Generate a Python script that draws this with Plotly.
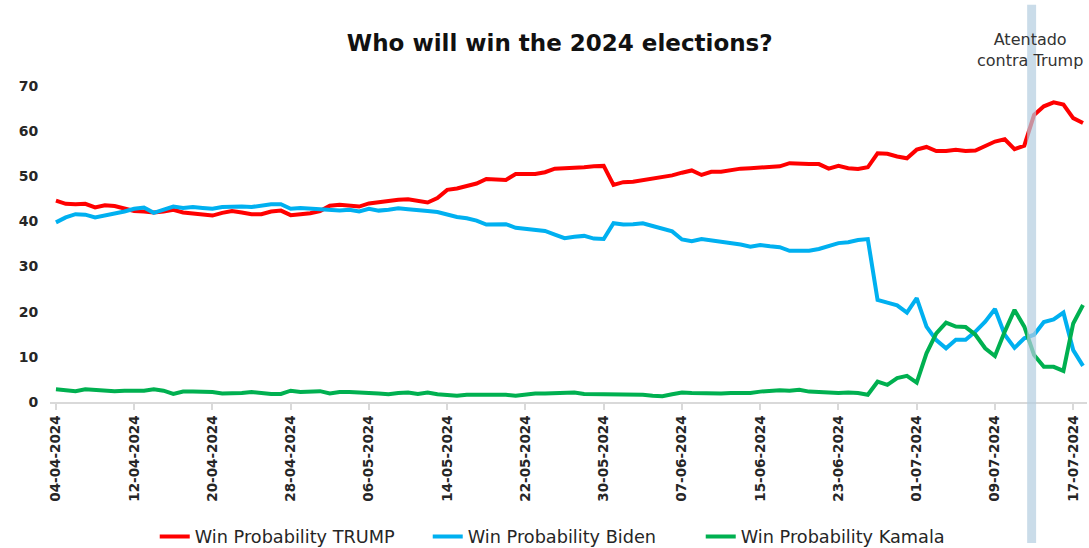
import pandas as pd
import plotly.graph_objects as go

start_date = "2024-04-04"
n_days = 106
dates = pd.date_range(start_date, periods=n_days, freq="D")

trump = [44.6, 43.9, 43.8, 43.9, 43.1, 43.6, 43.4, 42.8, 42.3, 42.2,
         42.0, 42.2, 42.6, 42.0, 41.7, 41.5, 41.3, 41.9, 42.3, 42.0,
         41.6, 41.6, 42.2, 42.4, 41.4, 41.6, 41.8, 42.3, 43.5, 43.7,
         43.6, 43.3, 44.0, 44.3, 44.6, 44.8, 44.9, 44.6, 44.2, 45.2,
         47.0, 47.3, 47.8, 48.4, 49.4, 49.3, 49.2, 50.5, 50.4, 50.5,
         50.9, 51.7, 51.8, 51.8, 52.0, 52.2, 52.3, 48.1, 48.7, 48.8,
         49.1, 49.5, 49.8, 50.2, 50.8, 51.3, 50.3, 51.0, 51.0, 51.4,
         51.7, 51.8, 52.0, 52.1, 52.2, 52.9, 52.7, 52.7, 52.7, 51.7,
         52.3, 51.8, 51.6, 52.0, 55.1, 55.0, 54.4, 54.0, 55.9, 56.5,
         55.6, 55.6, 55.9, 55.6, 55.7, 56.8, 57.7, 58.2, 56.0, 56.8,
         63.6, 65.5, 66.4, 65.9, 62.9, 61.8]

biden = [39.8, 40.9, 41.6, 41.5, 40.9, 41.3, 41.8, 42.2, 42.8, 43.1,
         41.9, 42.7, 43.3, 43.0, 43.2, 43.0, 42.8, 43.2, 43.3, 43.3,
         43.2, 43.6, 43.8, 43.8, 42.8, 43.0, 42.9, 42.7, 42.5, 42.4,
         42.6, 42.2, 42.8, 42.4, 42.6, 42.9, 42.7, 42.4, 42.3, 42.1,
         41.5, 41.0, 40.7, 40.2, 39.3, 39.3, 39.4, 38.6, 38.4, 38.2,
         37.9, 37.1, 36.3, 36.6, 36.8, 36.2, 36.1, 39.6, 39.3, 39.4,
         39.6, 39.0, 38.3, 37.8, 36.0, 35.6, 36.1, 35.8, 35.5, 35.4,
         34.9, 34.4, 34.8, 34.5, 34.3, 33.5, 33.5, 33.5, 33.9, 34.6,
         35.2, 35.4, 35.9, 36.1, 22.6, 22.0, 21.4, 19.8, 23.0, 16.7,
         13.7, 11.9, 13.8, 13.8, 15.6, 17.8, 20.6, 14.9, 12.0, 14.1,
         14.9, 17.7, 18.3, 19.8, 11.5, 8.0]

kamala = [2.8, 2.6, 2.4, 2.8, 2.6, 2.5, 2.4, 2.5, 2.5, 2.5,
          2.8, 2.5, 1.8, 2.3, 2.3, 2.3, 2.2, 1.9, 1.9, 2.0,
          2.2, 1.9, 1.8, 1.8, 2.5, 2.2, 2.3, 2.4, 1.9, 2.2,
          2.2, 2.2, 2.0, 1.9, 1.7, 2.0, 2.1, 1.8, 2.1, 1.7,
          1.6, 1.4, 1.6, 1.6, 1.7, 1.8, 1.6, 1.4, 1.7, 1.9,
          1.9, 2.0, 2.0, 2.1, 1.8, 1.8, 1.8, 1.6, 1.6, 1.6,
          1.6, 1.4, 1.3, 1.7, 2.1, 2.0, 1.9, 2.0, 1.9, 2.0,
          1.9, 2.0, 2.3, 2.5, 2.6, 2.5, 2.7, 2.3, 2.2, 2.0,
          2.0, 2.1, 2.0, 1.6, 4.5, 3.8, 5.3, 5.8, 4.3, 10.8,
          15.2, 17.6, 16.7, 16.6, 14.9, 11.9, 10.2, 15.6, 20.4, 16.7,
          10.4, 7.8, 7.8, 6.9, 17.4, 21.5]

series_names = ["Win Probability TRUMP", "Win Probability Biden", "Win Probability Kamala"]
series_colors = ["#ff0000", "#00b0f0", "#00b050"]
y_ticks = [0, 10, 20, 30, 40, 50, 60, 70]
event_label = "Atentado<br>contra Trump"
event_start = "2024-07-12 07:00"
event_end = "2024-07-13 05:00"

t0 = pd.Timestamp(start_date)
x_range = [t0 - pd.Timedelta(hours=14.6), t0 + pd.Timedelta(days=105.41)]

fig = go.Figure()
for name, vals, col in zip(series_names, [trump, biden, kamala], series_colors):
    fig.add_trace(go.Scatter(x=dates, y=vals, mode="lines", name=name,
                             line=dict(color=col, width=4)))

fig.add_shape(type="rect", xref="x", yref="paper",
              x0=event_start, x1=event_end, y0=-0.434, y1=1.222,
              fillcolor="#b4cde0", opacity=0.7, line=dict(width=0), layer="above")

fig.add_annotation(text=event_label, xref="paper", yref="paper", x=0.945, y=1.083,
                   xanchor="center", yanchor="middle",
                   showarrow=False, font=dict(family="DejaVu Sans", size=16, color="#333333"),
                   align="center")

fig.update_layout(
    width=1089, height=548,
    margin=dict(l=50, r=2, t=77, b=146, autoexpand=False),
    paper_bgcolor="white", plot_bgcolor="white",
    title=dict(text="<b>Who will win the 2024 elections?</b>", x=0.514, xanchor="center",
               y=0.921, yanchor="middle",
               font=dict(family="DejaVu Sans", size=23, color="#111111")),
    legend=dict(orientation="h", x=0.101, xanchor="left",
                yref="container", y=0.02, yanchor="middle",
                bgcolor="rgba(0,0,0,0)",
                font=dict(family="DejaVu Sans", size=17.7, color="#262626"),
                entrywidth=228, entrywidthmode="pixels"),
    xaxis=dict(type="date", range=x_range, tick0=start_date, dtick=8 * 86400000,
               tickformat="%d-%m-%Y", tickangle=-90, showgrid=False, automargin=False,
               showline=True, linecolor="#d9d9d9", linewidth=2,
               ticks="outside", ticklen=6, tickcolor="#d9d9d9", tickwidth=1.5,
               tickfont=dict(family="DejaVu Sans", size=13.5, color="#262626", weight="bold")),
    yaxis=dict(range=[0, 72], tickvals=y_ticks, showgrid=False, zeroline=False,
               showline=False, ticks="outside", ticklen=8, tickcolor="rgba(0,0,0,0)",
               automargin=False,
               tickfont=dict(family="DejaVu Sans", size=14, color="#262626", weight="bold")),
)

fig.write_html("out.html", config={"displayModeBar": False},
               post_script="document.body.style.margin='0';")
